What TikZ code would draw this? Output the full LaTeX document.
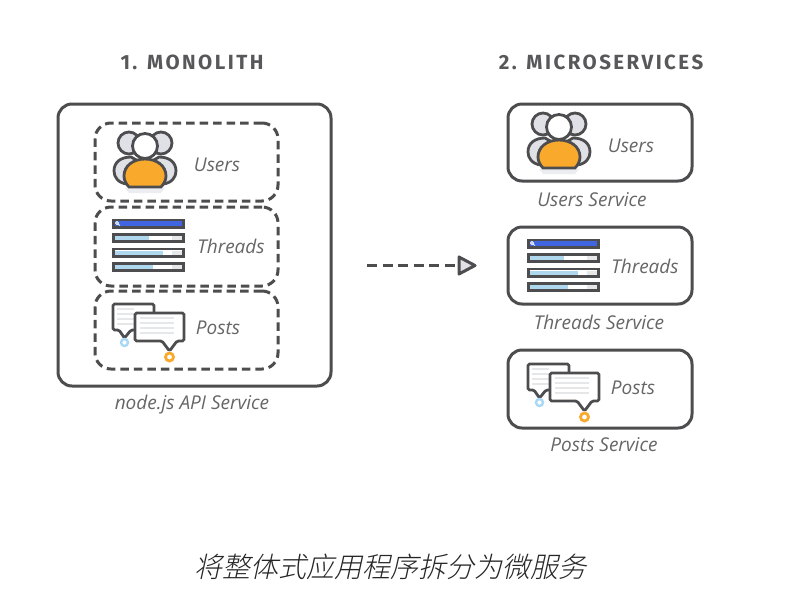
\documentclass[tikz,border=0pt]{standalone}
\usepackage{fontspec}
\setmainfont{Open Sans}
\newfontfamily\headfont[LetterSpace=12]{Fira Sans}
\newfontfamily\cjk[FakeSlant=0.22]{Noto Sans CJK SC Light}
\usetikzlibrary{positioning}
\usepackage{xcolor}
\definecolor{linegray}{HTML}{4D4D4F}
\definecolor{headgray}{HTML}{58585A}
\definecolor{textgray}{HTML}{666668}
\definecolor{backgray}{HTML}{DFE1E6}
\definecolor{iconorange}{HTML}{F9A92C}
\definecolor{barblue}{HTML}{3F66E0}
\definecolor{barlight}{HTML}{AFD8EE}
\definecolor{ringblue}{HTML}{A9D8F7}
\definecolor{stripe}{HTML}{E6E7E9}
\tikzset{
  outerbox/.style={draw=linegray, line width=3pt, rounded corners=14pt, fill=white, inner sep=0pt},
  dashbox/.style={draw=linegray, line width=3pt, rounded corners=16pt, dash pattern=on 8.5pt off 5pt, inner sep=0pt},
  heading/.style={text=headgray, font=\headfont\bfseries\fontsize{20.5}{24}\selectfont},
  label/.style={text=textgray, font=\itshape\fontsize{19}{22}\selectfont},
  iconline/.style={draw=linegray, line width=2.8pt},
}
% icons, local origin at top left of the icon
\newcommand{\usersicon}[2]{
\begin{scope}[shift={(#1,#2)}]
\fill[backgray, opacity=0.6] (12,57) -- (52,57) -- (48,62) -- (16,62) -- cycle;
\draw[iconline, fill=backgray] (16,12) circle [radius=11];
\draw[iconline, fill=backgray] (48,12) circle [radius=11];
\draw[iconline, fill=backgray] (14,53) .. controls (5,52) and (1,46) .. (1,40) .. controls (1,31) and (8,26) .. (18,26) -- (32,34) -- cycle;
\draw[iconline, fill=backgray] (50,53) .. controls (59,52) and (63,46) .. (63,40) .. controls (63,31) and (56,26) .. (46,26) -- (32,34) -- cycle;
\draw[iconline, fill=white] (32,15) circle [radius=12.5];
\draw[iconline, fill=iconorange] (16,56) .. controls (13,53) and (11,49) .. (11,45) .. controls (11,35) and (20,28) .. (32,28) .. controls (44,28) and (53,35) .. (53,45) .. controls (53,49) and (51,53) .. (48,56) -- cycle;
\end{scope}}
\newcommand{\threadbar}[2]{
\draw[iconline, fill=white] (1.4,#1+1.4) rectangle (71.6,#1+8.6);
\fill[barlight] (3,#1+3) rectangle (#2,#1+7);
\fill[stripe] (60,#1+3) rectangle (70,#1+7);
}
\newcommand{\threadsicon}[2]{
\begin{scope}[shift={(#1,#2)}]
\draw[iconline, fill=barblue] (1.4,1.4) rectangle (71.6,8.6);
\draw[white, line width=0.8pt] (5,4.5) circle [radius=1.5] (6,5.5)--(8,7);
\threadbar{14.5}{37}
\threadbar{29}{51}
\threadbar{43.5}{41}
\end{scope}}
\newcommand{\postsicon}[2]{
\begin{scope}[shift={(#1,#2)}]
\draw[iconline, fill=white, rounded corners=1.5pt] (1,1) -- (42,1) -- (42,27) -- (19,27) -- (12.5,35) -- (7,27) -- (1,27) -- cycle;
\foreach \y in {6,11,16,21}{\draw[stripe, line width=2pt] (5,\y) -- (22,\y);}
\draw[iconline, fill=white, rounded corners=1.5pt] (23,10) -- (72,10) -- (72,38) -- (65,38) -- (57.5,48) -- (50,38) -- (23,38) -- cycle;
\foreach \y in {15,20,25,30}{\draw[stripe, line width=2pt] (28,\y) -- (62,\y);}
\draw[ringblue, line width=2.4pt, fill=white] (12.5,39.5) circle [radius=3.5];
\draw[iconorange, line width=2.8pt, fill=white] (57.5,54) circle [radius=4];
\end{scope}}

\begin{document}
\begin{tikzpicture}[x=1pt,y=-1pt]
\useasboundingbox (0,0) rectangle (790,614);

% monolith
\node[outerbox, minimum width=273pt, minimum height=282pt] (mono) at (194.5,245) {};
\node[dashbox, minimum width=183pt, minimum height=78pt] (monousers) at (186.5,162) {};
\node[dashbox, minimum width=183pt, minimum height=79pt] (monothreads) at (186.5,246.5) {};
\node[dashbox, minimum width=183pt, minimum height=78pt] (monoposts) at (186.5,330) {};

% microservices
\node[outerbox, minimum width=184pt, minimum height=77pt] (usersbox) at (600,142.5) {};
\node[outerbox, minimum width=184pt, minimum height=77pt] (threadsbox) at (600,265.5) {};
\node[outerbox, minimum width=184pt, minimum height=78pt] (postsbox) at (600,389) {};

% icons
\usersicon{113}{131}
\usersicon{527}{112}
\threadsicon{112}{218.5}
\threadsicon{527}{238.5}
\postsicon{112}{303}
\postsicon{527}{363}

% nodes
\node[heading] (monohead) at (192,62) {1. MONOLITH};
\node[heading] (microhead) at (601,62) {2. MICROSERVICES};

\node[label] (monouserstext) at (217,165) {Users};
\node[label] (monothreadstext) at (231,246) {Threads};
\node[label] (monopoststext) at (218,328) {Posts};
\node[label] (monotext) at (192,405) {node.js API Service};

\node[label] (userstext) at (631,146) {Users};
\node[label] (usersservice) at (592,200) {Users Service};
\node[label] (threadstext) at (645,266) {Threads};
\node[label] (threadsservice) at (599,322) {Threads Service};
\node[label] (poststext) at (633,388) {Posts};
\node[label] (postsservice) at (604,445) {Posts Service};

\node[text=black!85, font=\cjk\fontsize{28}{32}\selectfont] (caption) at (390,567) {将整体式应用程序拆分为微服务};

% arrow
\coordinate (arrowstart) at (367,265);
\coordinate (arrowend) at (458,265);
\draw[linegray, line width=3pt, dash pattern=on 10pt off 5.6pt] (arrowstart) -- (arrowend);
\draw[linegray, line width=3pt, fill=backgray, line join=round] (459,257) -- (475,265.5) -- (459,274) -- cycle;

\end{tikzpicture}
\end{document}
